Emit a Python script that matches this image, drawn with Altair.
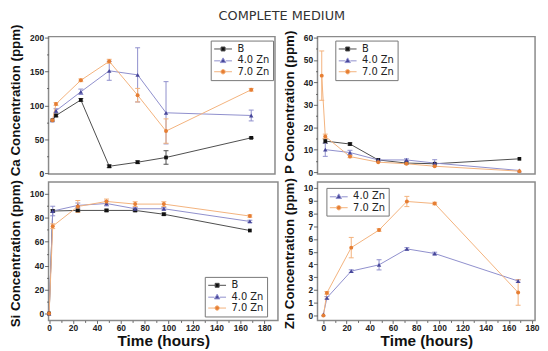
import altair as alt
import pandas as pd

# ---------------- data ----------------
TIMES = [0, 3, 24, 48, 72, 96, 168]
SERIES = ["B", "4.0 Zn", "7.0 Zn"]

# Ca concentration (ppm)
CA_B = [78, 85, 108, 10, 16, 23, 52]
CA_4ZN = [78, 92, 120, 151, 145, 89, 85]
CA_7ZN = [78, 102, 137, 165, 115, 62, 123]
CA_B_ERR = [0, 2, 2, 2, 2, 10, 1]
CA_4ZN_ERR = [0, 3, 4, 14, 40, 46, 8]
CA_7ZN_ERR = [0, 2, 2, 3, 10, 18, 2]

# P concentration (ppm)
P_B = [None, 13.8, 12.5, 5.4, 4.0, 3.7, 5.9]
P_4ZN = [None, 10.0, 8.7, 5.4, 5.4, 4.0, 0.7]
P_7ZN = [43.0, 15.9, 6.9, 4.4, 3.7, 2.6, 0.4]
P_B_ERR = [0, 1, 0.5, 0, 0, 0, 0]
P_4ZN_ERR = [0, 3, 1, 0.5, 0.5, 1.5, 0]
P_7ZN_ERR = [11, 1, 0.5, 0, 0, 0, 0]

# Si concentration (ppm)
SI_B = [0, 85.7, 86.2, 86.2, 86.2, 83.0, 69.4]
SI_4ZN = [0, 85.7, 90.4, 92.0, 87.6, 87.6, 77.0]
SI_7ZN = [0, 73.0, 89.5, 93.7, 91.5, 91.5, 81.5]
SI_B_ERR = [0, 1, 1, 1, 1, 1, 0]
SI_4ZN_ERR = [0, 4, 2, 2, 1, 1, 1]
SI_7ZN_ERR = [0, 2, 5, 2, 2, 2, 1]

# Zn concentration (ppm)
ZN_4ZN = [0.08, 1.38, 3.48, 3.97, 5.22, 4.86, 2.70]
ZN_7ZN = [0.0, 1.77, 5.32, 6.70, 8.94, 8.78, 1.80]
ZN_4ZN_ERR = [0, 0.1, 0.1, 0.4, 0.1, 0.1, 0.1]
ZN_7ZN_ERR = [0, 0.1, 0.8, 0.1, 0.4, 0.1, 1.0]

# ---------------- styles ----------------
LINE_COL = {"B": "#4d4d4d", "4.0 Zn": "#8f8fcc", "7.0 Zn": "#f3b27c"}
MARK_COL = {"B": "#111111", "4.0 Zn": "#47479a", "7.0 Zn": "#e67e33"}
MARK_SHAPE = {"B": "square", "4.0 Zn": "triangle-up", "7.0 Zn": "circle"}
MARK_SIZE = {"B": 14, "4.0 Zn": 20, "7.0 Zn": 16}
LEG_PATH = {
    "B": "M-1.8,0H-0.4M0.4,0H1.8M-0.4,-0.4H0.4V0.4H-0.4Z",
    "4.0 Zn": "M-1.8,0.1H-0.55M0.55,0.1H1.8M0,-0.5L0.55,0.45H-0.55Z",
    "7.0 Zn": "M-1.8,0H-0.45M0.45,0H1.8M-0.45,0A0.45,0.45 0 1,0 0.45,0A0.45,0.45 0 1,0 -0.45,0Z",
}
FRAME = "#8a8a8a"


def tick_cond(mod, big, small):
    return {"condition": {"test": f"datum.value % {mod} === 0", "value": big}, "value": small}


def panel(vals, errs, ser, ydom, yvals, ymod, ytitle, xdom, width, height, show_x, lx, ly,
          title_y=None):
    rows = []
    for s in ser:
        for t, v, e in zip(TIMES, vals[s], errs[s]):
            if v is None:
                continue
            rows.append({"series": s, "t": t, "v": v, "lo": v - e, "hi": v + e, "e": e})
    df = pd.DataFrame(rows)

    if show_x:
        xaxis = alt.Axis(
            values=list(range(0, 181, 10)),
            labelExpr="datum.value % 20 === 0 ? datum.label : ''",
            tickSize=tick_cond(20, 3, 2),
            title="Time (hours)", titleFontSize=15.5, titlePadding=2,
            labelPadding=0, domain=False, grid=False, labelFlush=False, labelOverlap=False,
        )
    else:
        xaxis = alt.Axis(labels=False, ticks=False, title=None, domain=False, grid=False)
    yargs = dict(
        values=yvals,
        labelExpr=f"datum.value % {ymod} === 0 ? datum.label : ''",
        tickSize=tick_cond(ymod, 4, 2),
        title=ytitle, titleFontSize=13.5, titlePadding=7,
        labelPadding=1, domain=False, grid=False, labelFlush=False, labelOverlap=False,
    )
    if title_y is not None:
        yargs["titleY"] = title_y
    yaxis = alt.Axis(**yargs)
    xs = alt.Scale(domain=xdom, nice=False, zero=False)
    ys = alt.Scale(domain=ydom, nice=False, zero=False)

    def X(f="t"):
        return alt.X(f"{f}:Q", scale=xs, axis=xaxis)

    def Y(f):
        return alt.Y(f"{f}:Q", scale=ys, axis=yaxis)

    layers = []
    for s in ser:
        sd = df[df.series == s]
        ed = sd[sd.e > 0]
        if len(ed):
            layers.append(alt.Chart(ed).mark_rule(color=LINE_COL[s], strokeWidth=1).encode(
                x=X(), y=Y("lo"), y2="hi:Q"))
            for f in ["lo", "hi"]:
                layers.append(alt.Chart(ed).mark_rule(color=LINE_COL[s], strokeWidth=1,
                                                      xOffset=-2.5, x2Offset=2.5).encode(
                    x=X(), x2="t:Q", y=Y(f)))
        layers.append(alt.Chart(sd).mark_line(color=LINE_COL[s], strokeWidth=1).encode(
            x=X(), y=Y("v")))
    for s in ser:
        sd = df[df.series == s]
        layers.append(alt.Chart(sd).mark_point(shape=MARK_SHAPE[s], filled=True, opacity=1,
                                               size=MARK_SIZE[s], color=MARK_COL[s]).encode(
            x=X(), y=Y("v")))

    leg = dict(orient="none", legendX=lx, legendY=ly, title=None, padding=3,
               strokeColor="#777777", fillColor="white", labelFont="DejaVu Sans",
               labelFontSize=10, labelColor="#222222", rowPadding=0.5,
               symbolSize=100, symbolOffset=4, labelOffset=9, symbolStrokeWidth=1)
    legend_layer = alt.Chart(df).mark_point(filled=True, opacity=1, size=100, strokeWidth=1).encode(
        fill=alt.Fill("series:N", scale=alt.Scale(domain=ser, range=[MARK_COL[s] for s in ser]),
                      legend=alt.Legend(**leg)),
        stroke=alt.Stroke("series:N", scale=alt.Scale(domain=ser, range=[LINE_COL[s] for s in ser]),
                          legend=alt.Legend(**leg)),
        shape=alt.Shape("series:N", scale=alt.Scale(domain=ser, range=[LEG_PATH[s] for s in ser]),
                        legend=alt.Legend(**leg)),
    ).transform_filter("false")
    layers.append(legend_layer)
    return alt.layer(*layers).properties(width=width, height=height)


ca = panel({"B": CA_B, "4.0 Zn": CA_4ZN, "7.0 Zn": CA_7ZN},
           {"B": CA_B_ERR, "4.0 Zn": CA_4ZN_ERR, "7.0 Zn": CA_7ZN_ERR},
           SERIES, [-1.5, 201.5], list(range(0, 201, 25)), 50, "Ca Concentration (ppm)",
           [-3.3, 188.1], 229, 139, False, 164, 4, title_y=64)
p = panel({"B": P_B, "4.0 Zn": P_4ZN, "7.0 Zn": P_7ZN},
          {"B": P_B_ERR, "4.0 Zn": P_4ZN_ERR, "7.0 Zn": P_7ZN_ERR},
          SERIES, [-0.9, 60.4], list(range(0, 61, 5)), 10, "P Concentration (ppm)",
          [-3.6, 181.3], 220, 139, False, 18, 4, title_y=66)
si = panel({"B": SI_B, "4.0 Zn": SI_4ZN, "7.0 Zn": SI_7ZN},
           {"B": SI_B_ERR, "4.0 Zn": SI_4ZN_ERR, "7.0 Zn": SI_7ZN_ERR},
           SERIES, [-5.8, 110], list(range(0, 101, 10)), 20, "Si Concentration (ppm)",
           [-0.5, 191.5], 232, 140, True, 158, 96, title_y=72)
zn = panel({"4.0 Zn": ZN_4ZN, "7.0 Zn": ZN_7ZN},
           {"4.0 Zn": ZN_4ZN_ERR, "7.0 Zn": ZN_7ZN_ERR},
           ["4.0 Zn", "7.0 Zn"], [-0.39, 10.47], list(range(0, 11)), 1, "Zn Concentration (ppm)",
           [-5.1, 182.6], 220, 140, True, 9, 6, title_y=72)

chart = alt.concat(
    ca, p, si, zn, columns=2, spacing={"row": 8, "column": 40}, bounds="flush", align="each"
).resolve_scale(
    fill="independent", stroke="independent", shape="independent"
).properties(
    title=alt.Title("COMPLETE MEDIUM", font="DejaVu Sans", fontSize=13, fontWeight="normal",
                    color="#333333", anchor="middle", dx=8, offset=-10,
                    baseline="alphabetic"),
    padding={"left": 0, "top": 0, "right": 0, "bottom": 0},
).configure_view(
    stroke=FRAME, strokeWidth=1.5
).configure_axis(
    labelFont="Liberation Sans", labelFontSize=8.5, labelFontWeight="bold", labelColor="#222222",
    titleFont="Liberation Sans", titleFontWeight="bold", titleColor="#111111",
    tickColor="#666666", tickWidth=1,
)

chart.save("out.html", embed_options={"renderer": "svg", "actions": False})
